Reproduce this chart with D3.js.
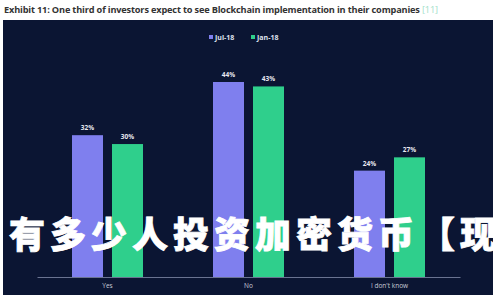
<!DOCTYPE html>
<html>
<head>
<meta charset="utf-8">
<script src="https://cdn.jsdelivr.net/npm/d3@7"></script>
<style>
  body { margin: 0; background: #fff; }
  svg { display: block; }
</style>
</head>
<body>
<svg id="chart" width="500" height="300"></svg>
<script>
// chart values
const categories = ["Yes", "No", "I don't know"]
const series = ["Jul-18", "Jan-18"]
const jul18 = [32, 44, 24]
const jan18 = [30, 43, 27]
const colors = ["#7f7fee", "#2fcf8c"]
const title = "Exhibit 11: One third of investors expect to see Blockchain implementation in their companies"
const overlay = "有多少人投资加密货币【现状"

const svg = d3.select("#chart")

// title
const t = svg.append("text")
  .attr("x", 4)
  .attr("y", 13)
  .attr("font-family", "Open Sans, sans-serif")
  .attr("font-weight", 700)
  .attr("font-size", 9.2)
  .attr("textLength", 434)
  .attr("fill", "#333")
t.append("tspan").text(title + " ")
t.append("tspan").attr("fill", "#9fe0c8").attr("font-weight", 400).text("[11]")

// dark panel
svg.append("rect")
  .attr("x", 3).attr("y", 20)
  .attr("width", 490).attr("height", 275)
  .attr("fill", "#0b1533")

const x0 = d3.scaleBand().domain(categories).range([37, 460]).padding(0)
const x1 = d3.scaleBand().domain(series).range([35, 106]).paddingInner(0.225)
const y = d3.scaleLinear().domain([0, 44]).range([277, 82])

const rows = categories.map((c, i) => ({ cat: c, vals: [jul18[i], jan18[i]] }))

const g = svg.append("g")
  .selectAll("g")
  .data(rows)
  .join("g")
  .attr("transform", d => `translate(${x0(d.cat)},0)`)

g.selectAll("rect")
  .data(d => d.vals.map((v, j) => ({ s: series[j], v, j })))
  .join("rect")
  .attr("x", d => x1(d.s))
  .attr("y", d => y(d.v))
  .attr("width", x1.bandwidth())
  .attr("height", d => y(0) - y(d.v))
  .attr("fill", d => colors[d.j])

g.selectAll("text.val")
  .data(d => d.vals.map((v, j) => ({ s: series[j], v, j })))
  .join("text")
  .attr("class", "val")
  .attr("x", d => x1(d.s) + x1.bandwidth() / 2)
  .attr("y", d => y(d.v) - 5)
  .attr("text-anchor", "middle")
  .attr("font-family", "Open Sans, sans-serif")
  .attr("font-weight", 700)
  .attr("font-size", 6.5)
  .attr("fill", "#e8e8f0")
  .text(d => d.v + "%")

// x axis
const ax = svg.append("g")
  .attr("transform", `translate(0,${y(0)})`)
  .call(d3.axisBottom(x0).tickSize(0).tickPadding(6))
ax.select(".domain").attr("stroke", "#6a7391")
ax.selectAll("text")
  .attr("font-family", "Open Sans, sans-serif")
  .attr("font-size", 6.5)
  .attr("fill", "#c8cbd6")

// legend
const legend = svg.append("g").attr("transform", "translate(209,38)")
const legX = [0, 42]
series.forEach((s, i) => {
  legend.append("rect")
    .attr("x", legX[i]).attr("y", -3)
    .attr("width", 4).attr("height", 4)
    .attr("fill", colors[i])
  legend.append("text")
    .attr("x", legX[i] + 6).attr("y", 1.5)
    .attr("font-family", "Open Sans, sans-serif")
    .attr("font-weight", 700)
    .attr("font-size", 7)
    .attr("fill", "#dfe2ee")
    .text(s)
})

// overlaid watermark text, runs off the right edge like the original
svg.append("text")
  .attr("x", 9)
  .attr("y", 248)
  .attr("font-family", "Noto Sans CJK SC, sans-serif")
  .attr("font-weight", 900)
  .attr("font-size", 36)
  .attr("letter-spacing", 5)
  .attr("fill", "#fff")
  .attr("stroke", "#fff")
  .attr("stroke-width", 0.8)
  .text(overlay)
</script>
</body>
</html>
